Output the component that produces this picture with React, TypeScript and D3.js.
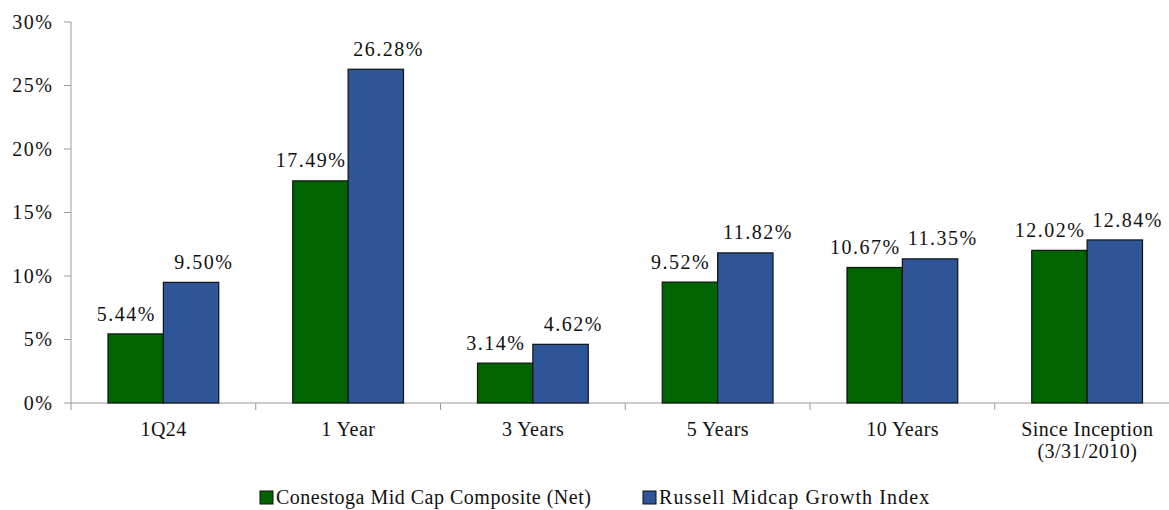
import * as d3 from "d3";

const categories = ["1Q24", "1 Year", "3 Years", "5 Years", "10 Years", "Since Inception\n(3/31/2010)"];
const seriesNames = ["Conestoga Mid Cap Composite (Net)", "Russell Midcap Growth Index"];
const composite = [5.44, 17.49, 3.14, 9.52, 10.67, 12.02];
const russell = [9.5, 26.28, 4.62, 11.82, 11.35, 12.84];
const yTicks = [0, 5, 10, 15, 20, 25, 30];
const colors = ["#006400", "#2E5597"];

const W = 1169;
const H = 510;
const FONT = "'Liberation Serif', 'Times New Roman', serif";

export default function App() {
  const left = 71;
  const catW = 184.75;
  const x0 = d3.scaleBand<string>().domain(categories).range([left, left + catW * categories.length]);
  const x1 = d3.scaleBand<string>().domain(seriesNames).range([37, catW - 37]);
  const y = d3.scaleLinear().domain([0, 30]).range([403, 22]);
  const values = [composite, russell];
  const labelShift = [-10, 12];
  const legendX = [260, 643];
  const legendSpacing = [0.5, 1.1];

  return (
    <svg width={W} height={H} style={{ position: "absolute", left: 0, top: 0, background: "#fff" }} fontFamily={FONT}>
      {/* y axis */}
      <line x1={left} x2={left} y1={y(30)} y2={y(0) + 7} stroke="#9a9a9a" />
      {yTicks.map((t) => (
        <g key={t}>
          <line x1={left - 7} x2={left} y1={y(t)} y2={y(t)} stroke="#9a9a9a" />
          <text x={53.5} y={y(t)} dy="0.33em" textAnchor="end" fontSize={20} letterSpacing={1.5} fill="#111">
            {t}%
          </text>
        </g>
      ))}
      {/* x axis */}
      <line x1={left} x2={W} y1={y(0)} y2={y(0)} stroke="#9a9a9a" />
      {categories.map((c) => (
        <line key={c} x1={x0(c)! + catW} x2={x0(c)! + catW} y1={y(0)} y2={y(0) + 7} stroke="#9a9a9a" />
      ))}
      {/* bars */}
      {categories.map((c, i) => (
        <g key={c} transform={`translate(${x0(c)},0)`}>
          {seriesNames.map((s, j) => {
            const v = values[j][i];
            const bx = x1(s)!;
            return (
              <g key={s}>
                <rect x={bx} y={y(v)} width={x1.bandwidth()} height={y(0) - y(v)} fill={colors[j]} stroke="#111" strokeWidth={1.2} />
                <text x={bx + x1.bandwidth() / 2 + labelShift[j] + 0.75} y={y(v) - 20} dy="0.33em" textAnchor="middle" fontSize={20} letterSpacing={1.5} fill="#111">
                  {v.toFixed(2)}%
                </text>
              </g>
            );
          })}
          {c.split("\n").map((line, k) => (
            <text key={k} x={catW / 2 + 0.25} y={429 + k * 22} dy="0.33em" textAnchor="middle" fontSize={20} letterSpacing={0.5} fill="#111">
              {line}
            </text>
          ))}
        </g>
      ))}
      {/* legend */}
      {seriesNames.map((s, j) => (
        <g key={s}>
          <rect x={legendX[j]} y={491} width={13} height={13} fill={colors[j]} stroke="#111" strokeWidth={1} />
          <text x={legendX[j] + 16} y={497} dy="0.33em" fontSize={20} letterSpacing={legendSpacing[j]} fill="#111">
            {s}
          </text>
        </g>
      ))}
    </svg>
  );
}
